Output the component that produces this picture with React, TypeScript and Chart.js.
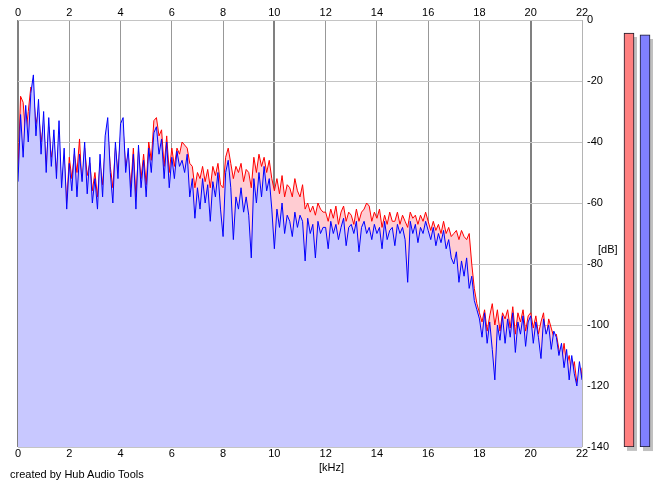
import { useEffect, useRef } from "react";
import { Chart, registerables } from "chart.js";

Chart.register(...registerables);

// Frequency resolution of the sampled spectrum (kHz)
const FREQ_STEP_KHZ = 0.1;
const FREQ_MAX_KHZ = 22;
const DB_MIN = -140;
const DB_MAX = 0;

// Blue channel spectrum (dB), 0.0 .. 22.0 kHz every 0.1 kHz
const blueDb = [
  -53, -31, -45, -28, -40, -24, -18, -38, -26, -44,
  -30, -50, -32, -48, -36, -52, -33, -55, -42, -62,
  -47, -56, -42, -58, -44, -53, -40, -57, -45, -60,
  -52, -62, -44, -58, -38, -32, -50, -60, -40, -52,
  -34, -32, -50, -42, -58, -44, -62, -41, -55, -46,
  -58, -42, -50, -37, -35, -44, -39, -52, -40, -55,
  -45, -52, -43, -48, -46, -50, -44, -58, -52, -65,
  -55, -62, -52, -60, -54, -66, -53, -58, -50, -62,
  -71, -50, -46, -55, -72, -58, -62, -55, -63, -58,
  -64, -78, -52, -60, -50, -58, -48, -56, -52, -62,
  -75, -62, -68, -60, -70, -64, -66, -71, -63, -68,
  -64, -66, -79, -65, -70, -67, -78, -66, -70, -68,
  -68, -75, -66, -70, -67, -72, -68, -65, -74, -68,
  -67, -70, -66, -76, -68, -66, -70, -68, -72, -67,
  -70, -68, -75, -66, -72, -69, -68, -74, -67, -70,
  -68, -72, -86, -66, -70, -67, -73, -68, -70, -66,
  -69, -72, -68, -74, -70, -73, -69, -75, -72, -78,
  -80, -76, -86, -79, -84, -78, -88, -84, -92, -95,
  -98, -104, -96, -106, -99, -108, -118, -100, -105, -97,
  -106, -98, -104, -96, -109, -99, -103, -97, -107, -99,
  -97, -106, -99, -104, -111, -98, -103, -100, -108, -102,
  -104, -110, -106, -114, -108, -118, -110, -116, -120, -112, -118,
];

// Red channel spectrum (dB), 0.0 .. 22.0 kHz every 0.1 kHz
const redDb = [
  -50, -25, -27, -38, -30, -22, -24, -34, -30, -40,
  -34, -48, -35, -45, -40, -50, -38, -57, -45, -60,
  -45, -52, -44, -50, -39, -55, -42, -51, -47, -56,
  -50, -58, -47, -54, -42, -36, -48, -55, -42, -50,
  -38, -36, -48, -44, -55, -42, -58, -43, -52, -44,
  -54, -40, -46, -33, -32, -38, -36, -48, -38, -50,
  -42, -48, -42, -44, -40, -41, -42, -47, -48, -55,
  -50, -52, -48, -53, -49, -55, -48, -51, -47, -54,
  -55, -45, -42, -47, -52, -48, -50, -47, -53, -49,
  -50, -55, -45, -50, -44, -48, -45, -50, -46, -52,
  -56, -52, -57, -51, -58, -54, -55, -58, -52, -56,
  -58, -54, -62, -60, -63, -61, -64, -60, -62, -63,
  -63, -66, -62, -65, -61, -67, -63, -61, -66, -63,
  -64, -67, -62, -66, -63, -62, -60, -61, -66, -63,
  -65, -62, -68, -64, -67, -63, -66, -66, -63, -67,
  -64, -66, -68, -63, -65, -64, -67, -64, -66, -63,
  -66, -69, -66, -69, -67, -70, -66, -70, -68, -71,
  -70, -69, -72, -69, -71, -72, -70, -80, -88, -93,
  -96, -99, -95, -102, -97, -93, -100, -95, -102, -96,
  -98, -95, -101, -94, -103, -96, -99, -95, -102, -97,
  -96, -101, -97, -103, -99, -96, -105, -98, -101, -104,
  -103, -108, -112, -106, -113, -110, -116, -112, -119, -127, -114,
];

// Level meters (dB)
const meterLabels = ["L", "R"];
const meterDb = [-4.3, -4.9];
const meterColors = ["#ff8080", "#8080ff"];

const FONT = { family: "'Liberation Sans', Arial, Helvetica, sans-serif", size: 11 };

function toPoints(values: number[]) {
  return values.map((v, i) => ({ x: Math.round(i * FREQ_STEP_KHZ * 10) / 10, y: v }));
}

const meterShadowPlugin = {
  id: "meterShadow",
  beforeDatasetsDraw(chart: any) {
    const ctx = chart.ctx;
    const meta = chart.getDatasetMeta(0);
    ctx.save();
    ctx.fillStyle = "#c0c0c0";
    meta.data.forEach((bar: any) => {
      const p = bar.getProps(["x", "y", "base", "width"], true);
      const top = Math.min(p.y, p.base);
      const h = Math.abs(p.base - p.y);
      ctx.fillRect(Math.round(p.x - p.width / 2) + 3, Math.round(top) + 4, p.width, h);
    });
    ctx.restore();
  },
};

export default function App() {
  const mainRef = useRef<HTMLCanvasElement | null>(null);
  const meterRef = useRef<HTMLCanvasElement | null>(null);

  useEffect(() => {
    const gridX = (ctx: any) => {
      const v = ctx.tick ? ctx.tick.value : 0;
      if (v === FREQ_MAX_KHZ) return "#b4b4b4";
      return v % 10 === 0 ? "#808080" : "#989898";
    };
    const gridXWidth = (ctx: any) => {
      const v = ctx.tick ? ctx.tick.value : 0;
      return v % 10 === 0 && v !== FREQ_MAX_KHZ ? 2 : 1;
    };

    const main = new Chart(mainRef.current as HTMLCanvasElement, {
      type: "line",
      data: {
        datasets: [
          {
            label: "Blue",
            data: toPoints(blueDb),
            borderColor: "#0000ff",
            backgroundColor: "rgb(200,200,255)",
            borderWidth: 1,
            fill: "start",
            pointRadius: 0,
            tension: 0,
            order: 0,
          },
          {
            label: "Red",
            data: toPoints(redDb),
            borderColor: "#ff0000",
            backgroundColor: "rgb(255,204,210)",
            borderWidth: 1,
            fill: "start",
            pointRadius: 0,
            tension: 0,
            order: 1,
          },
        ],
      },
      options: {
        responsive: false,
        animation: false,
        layout: { padding: { left: 18, top: 0, right: 0, bottom: 0 } },
        plugins: { legend: { display: false }, tooltip: { enabled: false } },
        scales: {
          x: {
            type: "linear",
            position: "bottom",
            min: 0,
            max: FREQ_MAX_KHZ,
            z: 1,
            ticks: { stepSize: 2, color: "#000", font: FONT, padding: 0, maxRotation: 0 },
            grid: { color: gridX, lineWidth: gridXWidth, drawTicks: false },
            border: { display: false },
            afterFit: (s: any) => {
              s.height = 40;
            },
          },
          xTop: {
            type: "linear",
            position: "top",
            min: 0,
            max: FREQ_MAX_KHZ,
            ticks: { stepSize: 2, color: "#000", font: FONT, padding: 0, maxRotation: 0 },
            grid: { display: false, drawTicks: false },
            border: { display: false },
            afterFit: (s: any) => {
              s.height = 20;
            },
          },
          y: {
            position: "right",
            min: DB_MIN,
            max: DB_MAX,
            z: 1,
            ticks: { stepSize: 20, color: "#000", font: FONT, padding: 5 },
            grid: { color: "#c4c4c4", lineWidth: 1, drawTicks: false },
            border: { display: false },
            afterFit: (s: any) => {
              s.width = 83;
            },
          },
        },
      },
    });

    const meter = new Chart(meterRef.current as HTMLCanvasElement, {
      type: "bar",
      data: {
        labels: meterLabels,
        datasets: [
          {
            data: meterDb.map((v) => [DB_MIN, v]),
            backgroundColor: meterColors,
            borderColor: "#1a1a2a",
            borderWidth: 1,
            borderSkipped: false,
            barThickness: 10,
          },
        ],
      },
      options: {
        responsive: false,
        animation: false,
        layout: { padding: { top: 0, bottom: 9, left: 0, right: 0 } },
        plugins: { legend: { display: false }, tooltip: { enabled: false } },
        scales: {
          x: { display: false },
          y: { display: false, min: DB_MIN, max: DB_MAX },
        },
      },
      plugins: [meterShadowPlugin],
    });

    return () => {
      main.destroy();
      meter.destroy();
    };
  }, []);

  const textStyle = {
    position: "absolute" as const,
    fontFamily: FONT.family,
    fontSize: 11,
    lineHeight: "13px",
    color: "#000",
    whiteSpace: "nowrap" as const,
  };

  return (
    <div
      style={{
        position: "absolute",
        left: 0,
        top: 0,
        width: 665,
        height: 487,
        background: "#fff",
        overflow: "hidden",
      }}
    >
      <canvas ref={mainRef} width={665} height={487} style={{ position: "absolute", left: 0, top: 0 }} />
      <canvas ref={meterRef} width={32} height={436} style={{ position: "absolute", left: 621, top: 20 }} />
      <div style={{ ...textStyle, left: 319, top: 461 }}>[kHz]</div>
      <div style={{ ...textStyle, left: 598, top: 243 }}>[dB]</div>
      <div style={{ ...textStyle, left: 10, top: 468 }}>created by Hub Audio Tools</div>
    </div>
  );
}
